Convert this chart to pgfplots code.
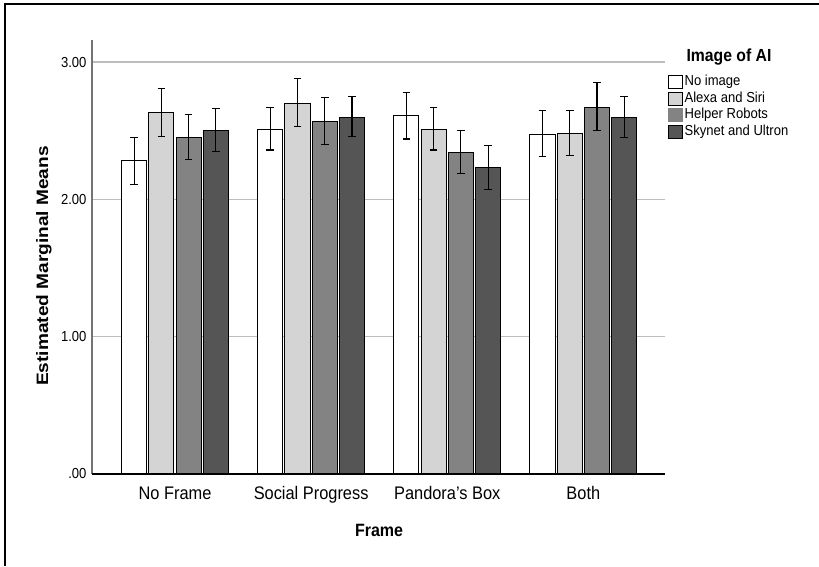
\documentclass[border=0pt]{standalone}
\usepackage{fontspec}
\setmainfont{Liberation Sans}[FakeStretch=0.9]
\usepackage{graphicx}
\usepackage{pgfplots}
\pgfplotsset{compat=1.18}
\usepackage{pgfplotstable}
\definecolor{lg}{HTML}{D4D4D4}
\definecolor{mg}{HTML}{838383}
\definecolor{dg}{HTML}{555555}
\definecolor{gridc}{HTML}{BDBDBD}

% x = group index + offset; y = mean; ep/em = error plus/minus
\pgfplotstableread{
x     y     ep    em
-0.3  2.28  0.17  0.17
0.7   2.51  0.16  0.15
1.7   2.61  0.17  0.17
2.7   2.47  0.18  0.16
}\noimage
\pgfplotstableread{
x     y     ep    em
-0.1  2.63  0.18  0.17
0.9   2.70  0.18  0.17
1.9   2.51  0.16  0.15
2.9   2.48  0.17  0.16
}\alexa
\pgfplotstableread{
x     y     ep    em
0.1   2.45  0.17  0.16
1.1   2.57  0.17  0.17
2.1   2.34  0.16  0.15
3.1   2.67  0.18  0.17
}\helper
\pgfplotstableread{
x     y     ep    em
0.3   2.50  0.16  0.15
1.3   2.60  0.15  0.14
2.3   2.23  0.16  0.16
3.3   2.60  0.15  0.15
}\skynet

\pgfplotsset{
  mybar/.style 2 args={
    fill=#1, draw=black, line width=1pt, bar shift=0pt,
    legend image code/.code={\draw[fill=#1, draw=#2, line width=0.9pt] (0pt,-6.5pt) rectangle (14pt,6.5pt);},
    error bars/.cd, y dir=both, y explicit,
    error bar style={black, line width=1.1pt},
    error mark options={black, rotate=90, mark size=3.8pt, line width=1.1pt}
  }
}

\begin{document}
\begin{tikzpicture}
\path[use as bounding box] (0,0) rectangle (819pt,566pt);
\draw[line width=1.2pt] (5pt,0pt) -- (5pt,562pt) -- (819pt,562pt);
\begin{axis}[
  at={(92pt,92pt)}, anchor=south west,
  scale only axis, width=573pt, height=434pt,
  xmin=-0.61, xmax=3.60, ymin=0, ymax=3.161,
  ybar, bar width=0.184,
  axis x line*=bottom, axis y line*=left,
  x axis line style={-, black, line width=2.5pt},
  y axis line style={-, black!55, line width=1.2pt},
  major tick length=0pt,
  ytick={0,1,2,3}, yticklabels={.00,1.00,2.00,3.00},
  xtick={0,1,2,3}, xticklabels={No Frame, Social Progress, Pandora's Box, Both},
  ymajorgrids, grid style={gridc, line width=1.3pt},
  xticklabel style={font=\fontsize{18.2}{21}\selectfont, anchor=base, yshift=-25pt},
  yticklabel style={font=\fontsize{14.5}{16}\selectfont, xshift=-2pt},
  xlabel={Frame},
  xlabel style={font=\bfseries\fontsize{17.8}{21}\selectfont, at={(axis description cs:0.501,-0.129)}, anchor=center},
  legend style={at={(axis description cs:1.0,0.928)}, anchor=north west, draw=none, fill=none,
    font=\fontsize{14.5}{16}\selectfont, row sep=0pt,
    nodes={inner sep=1.5pt, text height=10.5pt, text depth=3.2pt}},
  legend cell align=left,
  clip=false,
]
\addplot[mybar={white}{black}] table[x=x, y=y, y error plus=ep, y error minus=em] {\noimage};
\addlegendentry{No image}
\addplot[mybar={lg}{black}] table[x=x, y=y, y error plus=ep, y error minus=em] {\alexa};
\addlegendentry{Alexa and Siri}
\addplot[mybar={mg}{mg}] table[x=x, y=y, y error plus=ep, y error minus=em] {\helper};
\addlegendentry{Helper Robots}
\addplot[mybar={dg}{black}] table[x=x, y=y, y error plus=ep, y error minus=em] {\skynet};
\addlegendentry{Skynet and Ultron}
\draw[black, line width=2.8pt] (axis cs:-0.61,0) -- (axis cs:3.60,0);
\end{axis}
\node[font=\bfseries\fontsize{16.5}{19}\selectfont, rotate=90, inner sep=0pt] at (44pt,300pt) {\scalebox{1.285}[1]{Estimated Marginal Means}};
\node[font=\bfseries\fontsize{17.5}{20}\selectfont] at (729pt,509pt) {Image of AI};
\end{tikzpicture}
\end{document}
